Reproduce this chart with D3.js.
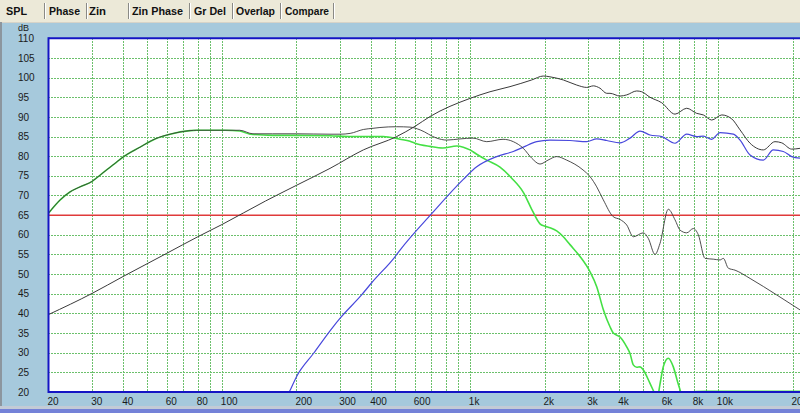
<!DOCTYPE html>
<html><head><meta charset="utf-8">
<script src="https://cdn.jsdelivr.net/npm/d3@7"></script>
<style>body{margin:0;background:#ECE9D8;overflow:hidden}svg{display:block}</style>
</head><body><svg id="c" width="800" height="413"></svg>
<script>
// ---- data ----
const tabs = ["SPL","Phase","Zin","Zin Phase","Gr Del","Overlap","Compare"];
const yTicks = [20,25,30,35,40,45,50,55,60,65,70,75,80,85,90,95,100,105,110];
const xGridValues = [30,40,50,60,70,80,90,100,200,300,400,500,600,700,800,900,1000,2000,3000,4000,5000,6000,7000,8000,9000,10000,20000];
const xLabelValues = [20,30,40,60,80,100,200,300,400,600,1000,2000,3000,4000,6000,8000,10000,20000];
const xLabelTexts = ["20","30","40","60","80","100","200","300","400","600","1k","2k","3k","4k","6k","8k","10k","20k"];
const refLevel = 65;

const greenF = [20,22.3,24.4,26.8,30,32.3,37.1,40,46.8,53.8,61.8,74.4,79.2,89.6,103,118,130,160,200,273,330,400,447,523,574,601,691,779,885,941,1001,1066,1170,1323,1475,1643,1776,1918,2009,2104,2240,2382,2534,2780,3052,3248,3452,3674,3788,4032,4290,4424,4562,4708,4856,5006,5326,5580,5700,5844,6026,6314,6614,6928,7150,7400,9000,12000,16000,22000];
const greenDb = [65.5,68.9,70.9,72.2,73.6,75.2,78.2,79.8,82.3,84.4,85.6,86.5,86.6,86.6,86.6,86.4,85.6,85.3,85.3,85.2,85.0,85.0,85.0,84.3,83.8,83.3,82.5,82.1,82.6,82.3,81.6,80.5,79.0,77.2,74.4,70.8,66.5,62.8,62.2,61.8,61.0,59.5,57.5,54.5,50.6,46.8,41.0,36.6,35.0,34.0,31.5,29.8,26.9,26.3,26.4,25.6,22.2,19.5,18.5,22.0,26.4,28.6,26.4,22.0,19.8,19.9,20.2,20.2,20.2,20.2];

const wooferF = [20,22.3,24.4,26.8,30,32.3,37.1,40,46.8,53.8,61.8,74.4,79.2,89.6,103,118,133.5,160,200,273,300,329,372,407,434,507,574,630,735,806,913,1030,1170,1361,1497,1643,1776,1918,2066,2240,2458,2860,3052,3248,3452,3788,4032,4290,4562,5006,5242,5580,5844,6314,6720,7040,7490,7962,8342,8878,9588,10206,10524,11024,11730,13484,17272,21440];
const wooferDb = [65.5,68.9,70.9,72.2,73.6,75.2,78.2,79.8,82.3,84.4,85.6,86.5,86.6,86.6,86.6,86.6,85.7,85.7,85.7,85.6,85.6,85.8,86.8,87.1,87.3,87.5,87.4,86.7,84.6,84.1,84.4,84.6,83.7,84.3,83.7,82.0,79.5,78.0,79.0,79.9,79.0,76.5,74.8,72.2,68.9,64.6,63.9,62.5,59.5,60.5,59.1,55.0,57.8,66.5,63.8,61.2,60.5,61.6,60.0,54.0,53.8,53.6,54.0,51.5,51.0,48.9,44.7,40.9];

const sumF = [20,30,40,60,80,100,150,200,273,372,507,601,691,1001,1206,1452,1776,1978,2104,2382,2698,2960,3146,3348,3564,3674,4032,4290,4708,4932,5326,5938,6720,7490,8218,8738,9448,10368,11376,12288,13484,15252,17000,18094,19854,21440];
const sumDb = [39.7,45.1,49.4,55.3,59.5,62.6,68.6,72.6,76.9,81.6,85.0,87.6,90.1,94.7,96.4,97.7,99.4,100.4,100.2,99.4,98.1,97.5,97.9,97.3,96.0,96.0,95.3,95.6,96.6,96.4,95.0,93.6,90.7,92.2,90.9,90.5,89.2,90.5,89.5,86.7,83.3,81.6,83.7,83.4,81.8,82.0];

const tweeterF = [178,188,200,234,281,300,366,402,499,523,700,941,1066,1283,1497,1643,1860,2104,2534,2960,3248,3564,4032,4424,4856,5326,5938,6720,7490,8218,8738,9448,10206,11548,12288,13484,15252,16732,18364,19854,21440];
const tweeterDb = [18.0,20.3,23.9,29.8,36.6,38.8,44.7,47.8,54.4,56.1,65.3,74.1,77.3,79.9,81.2,82.3,83.7,84.1,84.0,83.7,84.4,84.0,83.4,84.6,86.4,85.4,85.0,83.3,85.6,85.0,85.1,84.3,86.0,85.6,84.1,80.3,79.0,81.6,81.2,79.9,79.5];

// ---- drawing ----
const svg = d3.select("#c");
const W = 800, H = 413;
const x = d3.scaleLog().domain([20,20000]).range([48.5,792.5]);
const y = d3.scaleLinear().domain([20,110]).range([392,38.3]);
const px = v => Math.round(v) + 0.5;

// tab bar
svg.append("rect").attr("x",0).attr("y",0).attr("width",W).attr("height",22).attr("fill","#ECE9D8");
const tabX = [6,49,89,132,194,236,285];
const tabW = [21,31,17,51,32,39,44];
const sepX = [44,86,128,189,232,280,333];
svg.selectAll("text.tab").data(tabs).join("text").attr("class","tab")
  .attr("x",(d,i)=>tabX[i]).attr("y",15)
  .attr("textLength",(d,i)=>tabW[i]).attr("lengthAdjust","spacingAndGlyphs")
  .attr("font-family","Liberation Sans, Arial, sans-serif").attr("font-weight","bold")
  .attr("font-size",11.5).attr("fill","#111").text(d=>d);
sepX.forEach(s=>{
  svg.append("line").attr("x1",s+0.5).attr("x2",s+0.5).attr("y1",3).attr("y2",19).attr("stroke","#8A8A86");
  svg.append("line").attr("x1",s+1.5).attr("x2",s+1.5).attr("y1",3).attr("y2",19).attr("stroke","#FFFFFF");
});

// panel
svg.append("rect").attr("x",0).attr("y",22).attr("width",W).attr("height",386).attr("fill","#A6C9DC");
svg.append("line").attr("x1",0).attr("x2",W).attr("y1",22.5).attr("y2",22.5).attr("stroke","#D6D3C8");
svg.append("rect").attr("x",0).attr("y",22).attr("width",2).attr("height",386).attr("fill","#8C969E");
svg.append("rect").attr("x",0).attr("y",406).attr("width",W).attr("height",3).attr("fill","#C3CBD6");
svg.append("rect").attr("x",0).attr("y",409).attr("width",W).attr("height",4).attr("fill","#7482D8");

// plot background
svg.append("rect").attr("x",48.5).attr("y",38.3).attr("width",W).attr("height",392-38.3).attr("fill","#FFFFFF");

svg.append("defs").append("clipPath").attr("id","clip")
  .append("rect").attr("x",49).attr("y",39).attr("width",W).attr("height",352.5);
const plot = svg.append("g").attr("clip-path","url(#clip)");

// grid
const gridCol = "#6CC06C";
plot.selectAll("line.hg").data(yTicks.filter(t=>t>20&&t<110)).join("line").attr("class","hg")
  .attr("x1",48).attr("x2",W).attr("y1",d=>px(y(d))).attr("y2",d=>px(y(d)))
  .attr("stroke",gridCol).attr("stroke-dasharray","2,1").attr("stroke-width",1);
plot.selectAll("line.vg").data(xGridValues).join("line").attr("class","vg")
  .attr("x1",d=>px(x(d))).attr("x2",d=>px(x(d))).attr("y1",38).attr("y2",392)
  .attr("stroke",gridCol).attr("stroke-dasharray","2,1").attr("stroke-width",1);

// reference line
plot.append("line").attr("x1",48).attr("x2",W).attr("y1",y(refLevel)).attr("y2",y(refLevel))
  .attr("stroke","#E03A3A").attr("stroke-width",1.5);

const line = d3.line().x(d=>x(d[0])).y(d=>y(d[1])).curve(d3.curveMonotoneX);
const zip = (a,b)=>a.map((v,i)=>[v,b[i]]);
function drawCurve(fs, dbs, col, w){
  plot.append("path").datum(zip(fs,dbs)).attr("d",line)
    .attr("fill","none").attr("stroke",col).attr("stroke-width",w).attr("stroke-linejoin","round");
}
drawCurve(greenF, greenDb, "#44E044", 1.6);
drawCurve(tweeterF, tweeterDb, "#4848DC", 1.2);
drawCurve(sumF, sumDb, "#3A3A3A", 1.0);
drawCurve(wooferF, wooferDb, "#3A3A3A", 0.9);

// border
svg.append("line").attr("x1",48.5).attr("x2",W).attr("y1",38.3).attr("y2",38.3).attr("stroke","#1414C4").attr("stroke-width",2);
svg.append("line").attr("x1",48.5).attr("x2",W).attr("y1",392).attr("y2",392).attr("stroke","#1414C4").attr("stroke-width",2.2);
svg.append("line").attr("x1",48.5).attr("x2",48.5).attr("y1",37.3).attr("y2",393.1).attr("stroke","#1414C4").attr("stroke-width",2);

// axis labels
const font = "Liberation Sans, Arial, sans-serif";
svg.selectAll("text.yl").data(yTicks).join("text").attr("class","yl")
  .attr("x",18).attr("y",d=>y(d)).attr("dy","0.36em")
  .attr("font-family",font).attr("font-size",10).attr("fill","#1A1A1A").text(d=>d);
svg.append("text").attr("x",18).attr("y",31).attr("font-family",font).attr("font-size",9).attr("fill","#1A1A1A").text("dB");
svg.selectAll("text.xl").data(xLabelValues).join("text").attr("class","xl")
  .attr("x",d=>x(d)-1).attr("y",405)
  .attr("font-family",font).attr("font-size",10).attr("fill","#1A1A1A").text((d,i)=>xLabelTexts[i]);
</script>
</body></html>
